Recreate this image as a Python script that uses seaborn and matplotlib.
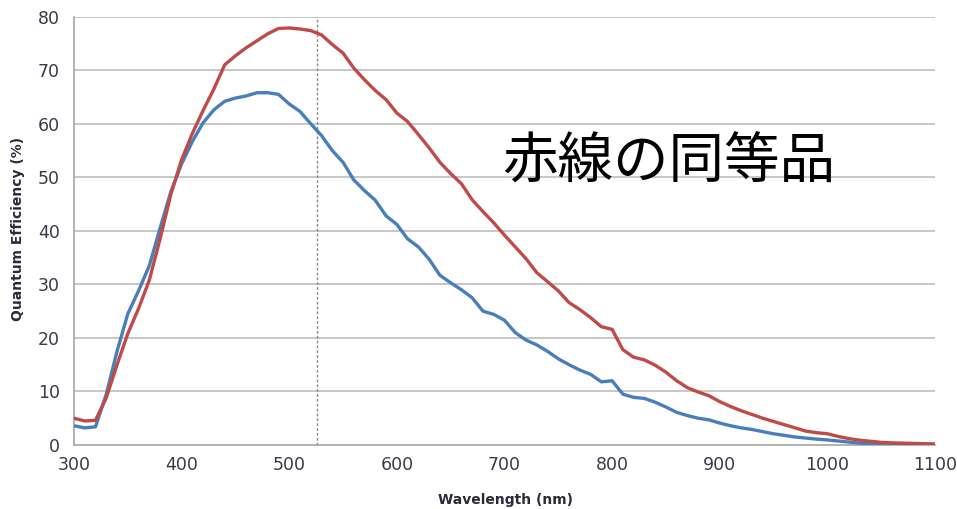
import matplotlib
matplotlib.use("Agg")
import matplotlib.pyplot as plt
import pandas as pd
import seaborn as sns

# wavelength grid (nm) and quantum efficiency (%)
wavelength = list(range(300, 1101, 10))

qe_blue = [
    3.6, 3.2, 3.4, 9.5, 17.5, 24.5, 28.8, 33.5, 40.5, 47.3,
    52.5, 56.7, 60.2, 62.6, 64.2, 64.8, 65.2, 65.8, 65.8, 65.5,
    63.7, 62.3, 60.0, 57.8, 55.0, 52.8, 49.5, 47.5, 45.7, 42.8,
    41.2, 38.5, 37.0, 34.7, 31.7, 30.3, 29.0, 27.5, 25.0, 24.4,
    23.3, 21.0, 19.6, 18.7, 17.5, 16.1, 15.0, 14.0, 13.2, 11.8,
    12.0, 9.5, 8.9, 8.7, 8.0, 7.1, 6.1, 5.5, 5.0, 4.7,
    4.1, 3.6, 3.2, 2.9, 2.5, 2.1, 1.8, 1.5, 1.3, 1.1,
    0.95, 0.75, 0.55, 0.35, 0.25, 0.2, 0.15, 0.1, 0.1, 0.1,
    0.1,
]

qe_red = [
    5.0, 4.5, 4.6, 8.8, 15.0, 20.8, 25.5, 30.8, 38.5, 46.8,
    53.3, 58.2, 62.5, 66.5, 71.0, 72.7, 74.2, 75.5, 76.8, 77.8,
    77.9, 77.7, 77.4, 76.6, 74.8, 73.2, 70.4, 68.2, 66.2, 64.5,
    62.0, 60.4, 58.0, 55.5, 52.8, 50.7, 48.8, 45.8, 43.6, 41.5,
    39.2, 37.0, 34.8, 32.2, 30.5, 28.8, 26.6, 25.3, 23.8, 22.1,
    21.6, 17.8, 16.4, 15.9, 14.9, 13.6, 12.0, 10.7, 9.9, 9.2,
    8.1, 7.2, 6.4, 5.7, 5.0, 4.4, 3.8, 3.2, 2.6, 2.3,
    2.1, 1.6, 1.2, 0.9, 0.7, 0.5, 0.4, 0.35, 0.3, 0.25,
    0.2,
]

marker_nm = 526
annotation = "赤線の同等品"

sns.set_theme(style="white")
plt.rcParams["font.family"] = ["DejaVu Sans", "Noto Sans CJK JP"]

df = pd.concat([
    pd.DataFrame({"wavelength": wavelength, "qe": qe_blue, "series": "blue"}),
    pd.DataFrame({"wavelength": wavelength, "qe": qe_red, "series": "red"}),
])

fig = plt.figure(figsize=(9.57, 5.09), dpi=100)
ax = fig.add_axes([0.0773, 0.1257, 0.8997, 0.8415])

for y in range(10, 81, 10):
    ax.axhline(y, color="#bdbdbd", lw=1.2, zorder=0)
ax.axvline(marker_nm, color="#8c8c8c", lw=1.0, ls=(0, (2, 1.5)), zorder=1)

sns.lineplot(data=df, x="wavelength", y="qe", hue="series",
             palette={"blue": "#4a7ebb", "red": "#be4b48"},
             linewidth=2.4, legend=False, ax=ax, zorder=3)

ax.set_xlim(300, 1100)
ax.set_ylim(0, 80)
ax.set_xticks(range(300, 1101, 100))
ax.set_yticks(range(0, 81, 10))
ax.tick_params(axis="both", length=0, labelsize=12.5, labelcolor="#3a3a4a", pad=8)
ax.tick_params(axis="y", pad=10)

for side in ["top", "right"]:
    ax.spines[side].set_visible(False)
for side in ["left", "bottom"]:
    ax.spines[side].set_color("#a6a6a6")
    ax.spines[side].set_linewidth(1.2)

ax.set_xlabel("")
ax.set_ylabel("")
fig.text(0.528, 0.018, "Wavelength (nm)", ha="center", va="center",
         fontsize=10, fontweight="bold", color="#2a2a3a")
fig.text(0.019, 0.55, "Quantum Efficiency (%)", ha="center", va="center",
         rotation=90, fontsize=10, fontweight="bold", color="#2a2a3a")

fig.text(0.699, 0.68, annotation, fontsize=40,
         family=["Noto Sans CJK JP", "DejaVu Sans"],
         color="black", ha="center", va="center", zorder=5)

fig.savefig("out.png", dpi=100)
